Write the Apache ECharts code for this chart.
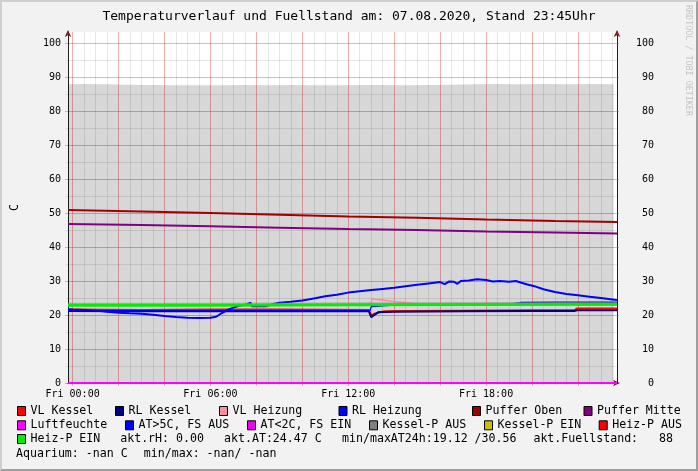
<!DOCTYPE html>
<html><head><meta charset="utf-8">
<script src="https://cdn.jsdelivr.net/npm/echarts@6/dist/echarts.min.js"></script>
<style>
html,body{margin:0;padding:0;background:#f2f2f2;}
#c{position:absolute;left:0;top:0;width:698px;height:471px;}
#frame{position:absolute;left:0;top:0;width:698px;height:471px;box-sizing:border-box;border-left:2px solid #cfcfcf;border-top:2px solid #cfcfcf;border-right:2px solid #9e9e9e;border-bottom:2px solid #9e9e9e;pointer-events:none;}
</style></head><body>
<div id="c"></div><div id="frame"></div>
<script>
// ---------------- DATA (hours relative to Fri 00:00, values in C) ----------------
const xLabelHours = [0, 6, 12, 18];
const yLabelValues = [0, 10, 20, 30, 40, 50, 60, 70, 80, 90, 100];

const fuelT = [-0.2, 0.5, 1.5, 2.5, 3.5, 4.5, 5.5, 6.5, 7.5, 8.5, 9.5, 10.5, 11.5, 12.5, 13.5, 14.5, 15.5, 16.5, 17.5, 18.5, 19.5, 20.5, 21.5, 22.5, 23.55];
const fuelV = [87.9, 88.0, 87.9, 87.8, 87.7, 87.6, 87.6, 87.6, 87.7, 87.6, 87.7, 87.6, 87.6, 87.7, 87.7, 87.6, 87.7, 87.8, 87.9, 88.0, 87.9, 88.0, 87.9, 88.0, 87.9];

const vlKesselT = [-0.2, 3, 6, 9, 12.9, 13.0, 13.15, 13.35, 13.6, 14.5, 17, 20, 21.85, 21.95, 23.7];
const vlKesselV = [21.6, 21.5, 21.6, 21.6, 21.5, 19.9, 20.4, 20.8, 21.1, 21.2, 21.3, 21.4, 21.4, 21.9, 21.9];

const rlKesselT = [-0.2, 3, 6, 9, 12.9, 13.0, 13.3, 14, 17, 20, 21.85, 21.95, 23.7];
const rlKesselV = [21.2, 21.1, 21.1, 21.1, 21.1, 19.4, 20.8, 21.0, 21.1, 21.2, 21.2, 21.4, 21.4];

const vlHeizT = [-0.2, 6, 12.95, 13.05, 13.5, 14.0, 14.5, 14.8, 15.2, 18, 23.7];
const vlHeizV = [23.0, 23.0, 23.0, 24.7, 24.4, 24.0, 23.7, 23.4, 23.1, 23.1, 23.1];

const rlHeizT = [-0.2, 6, 12.95, 13.0, 13.5, 14, 16, 19, 19.5, 21, 23.7];
const rlHeizV = [21.3, 21.3, 21.3, 22.5, 22.7, 22.9, 23.0, 23.2, 23.7, 23.8, 23.8];

const pufferT = [-0.2, 3, 6, 9, 12, 15, 18, 21, 23.7];
const pufferObenV = [50.9, 50.5, 50.0, 49.5, 49.0, 48.6, 48.1, 47.7, 47.4];
const pufferMitteV = [46.8, 46.5, 46.1, 45.7, 45.3, 45.0, 44.6, 44.3, 44.0];

const flatT = [-0.2, 6, 12, 18, 23.7];
const luftV = [0, 0, 0, 0, 0];
const kesselPAusV = [23.45, 23.45, 23.55, 23.65, 23.75];
const kesselPEinV = [23.0, 23.0, 23.1, 23.1, 23.2];
const heizPEinV = [22.9, 22.9, 23.0, 23.1, 23.2];

const atT = [-0.2, 0, 0.5, 1, 1.5, 2, 2.5, 3, 3.5, 4, 4.5, 5, 5.5, 6, 6.25, 6.5, 6.75, 7, 7.25, 7.5, 7.75, 7.8, 8.4, 8.6, 9, 9.5, 10, 10.5, 11, 11.5, 12, 12.5, 13, 13.5, 14, 14.5, 15, 15.5, 16, 16.2, 16.4, 16.6, 16.75, 16.9, 17.25, 17.6, 18, 18.3, 18.6, 19, 19.3, 19.5, 19.8, 20.1, 20.5, 21, 21.5, 22, 22.5, 23, 23.5, 23.7];
const atV = [21.7, 21.6, 21.5, 21.3, 21.0, 20.7, 20.5, 20.4, 20.1, 19.7, 19.4, 19.2, 19.1, 19.2, 19.5, 20.6, 21.5, 22.2, 22.7, 23.0, 23.6, 22.6, 22.6, 23.0, 23.6, 23.9, 24.3, 24.9, 25.5, 26.0, 26.6, 27.0, 27.4, 27.7, 28.0, 28.5, 28.9, 29.3, 29.7, 29.1, 29.9, 29.8, 29.2, 30.0, 30.2, 30.5, 30.3, 29.9, 30.0, 29.8, 30.0, 29.6, 29.0, 28.5, 27.6, 26.8, 26.2, 25.8, 25.4, 25.0, 24.6, 24.4];

const emptyV = [];

// ---------------- STYLE ----------------
const FONT = '"DejaVu Sans Mono", monospace';
const GREY = 'rgba(143,143,143,0.22)';
const RED = 'rgba(230,60,60,0.42)';
const ARROW = '#7f1f1f';
const AXIS = '#1f1f1f';
const X0 = -0.2, X1 = 23.7, YMAX = 103.3;

const halfHours = []; for (let h = 0; h <= 23.5; h += 0.5) if (h % 2 !== 0) halfHours.push(h);
const twoHours = []; for (let h = 0; h <= 22; h += 2) twoHours.push(h);
const y5 = []; for (let v = 5; v <= 100; v += 10) y5.push(v);

const pairs = (t, v) => t.map((x, i) => [x, v[i]]);
const pad = n => (n < 10 ? '0' : '') + n;

function line(name, color, t, v, width, extra) {
  return Object.assign({
    name, type: 'line', xAxisIndex: 3, yAxisIndex: 5, data: pairs(t, v),
    showSymbol: false, symbol: 'none', animation: false, color: color,
    lineStyle: { color: color, width: width }, z: 2, silent: true
  }, extra || {});
}

const series = [
  { name: 'Fuellstand', type: 'line', xAxisIndex: 3, yAxisIndex: 5, data: pairs(fuelT, fuelV), showSymbol: false, symbol: 'none',
    animation: false, lineStyle: { width: 0 }, areaStyle: { color: 'rgba(0,0,0,0.155)', opacity: 1 }, z: 2, silent: true },
  line('VL Kessel', '#ff0000', vlKesselT, vlKesselV, 2),
  line('RL Kessel', '#000080', rlKesselT, rlKesselV, 2),
  line('VL Heizung', '#ff8fa0', vlHeizT, vlHeizV, 1.6),
  line('RL Heizung', '#0000ff', rlHeizT, rlHeizV, 1.2),
  line('Puffer Oben', '#a00000', pufferT, pufferObenV, 2),
  line('Puffer Mitte', '#800080', pufferT, pufferMitteV, 2),
  line('Luftfeuchte', '#ff00ff', flatT, luftV, 2),
  line('AT>5C, FS AUS', '#0000ff', atT, atV, 2),
  line('AT<2C, FS EIN', '#ee00ee', flatT, emptyV, 2),
  line('Kessel-P AUS', '#808080', flatT, kesselPAusV, 1, { lineStyle: { color: 'rgba(128,128,128,0.55)', width: 1 } }),
  line('Kessel-P EIN', '#c8c000', flatT, kesselPEinV, 2),
  line('Heiz-P AUS', '#ff0000', flatT, emptyV, 2),
  line('Heiz-P EIN', '#00ee00', flatT, heizPEinV, 3)
];

const legendLayout = [
  ['VL Kessel', 17, 404], ['RL Kessel', 115, 404], ['VL Heizung', 219, 404], ['RL Heizung', 338.5, 404], ['Puffer Oben', 472, 404], ['Puffer Mitte', 583.5, 404],
  ['Luftfeuchte', 17, 418.3], ['AT>5C, FS AUS', 125, 418.3], ['AT<2C, FS EIN', 247, 418.3], ['Kessel-P AUS', 369, 418.3], ['Kessel-P EIN', 484, 418.3], ['Heiz-P AUS', 598.7, 418.3],
  ['Heiz-P EIN', 17, 432]
];
const legends = legendLayout.map(([n, l, t]) => ({
  data: [n], left: l, top: t, padding: 0, itemWidth: 8, itemHeight: 9, icon: 'rect', selectedMode: false,
  itemStyle: { borderColor: '#000', borderWidth: 1 },
  textStyle: { fontFamily: FONT, fontSize: 11.6, color: '#000', lineHeight: 14 }
}));

const textRows = [
  ['akt.rH: 0.00', 120.2, 439], ['akt.AT:24.47 C', 224, 439], ['min/maxAT24h:19.12 /30.56', 342, 439], ['akt.Fuellstand:   88', 533.4, 439],
  ['Aquarium: -nan C', 16, 453.7], ['min/max: -nan/ -nan', 143.8, 453.7]
];
const graphics = textRows.map(([s, x, y]) => ({ type: 'text', x, y, silent: true,
  style: { text: s, font: '11.6px ' + FONT, fill: '#000', align: 'left', verticalAlign: 'middle' } }));
graphics.push({ type: 'text', x: 349, y: 17, silent: true,
  style: { text: 'Temperaturverlauf und Fuellstand am: 07.08.2020, Stand 23:45Uhr', font: '13px ' + FONT, fill: '#000', align: 'center', verticalAlign: 'middle' } });
graphics.push({ type: 'text', x: 688, y: 5, rotation: -Math.PI / 2, silent: true,
  style: { text: 'RRDTOOL / TOBI OETIKER', font: '8.4px ' + FONT, fill: '#c4c4c4', align: 'left', verticalAlign: 'middle' } });

const noLine = { show: false, onZero: false };
const baseX = { type: 'value', min: X0, max: X1, position: 'bottom', axisLabel: { show: false }, axisLine: noLine, splitLine: { show: false }, axisTick: { show: false } };
const baseY = { type: 'value', min: 0, max: YMAX, axisLabel: { show: false }, axisLine: noLine, splitLine: { show: false }, axisTick: { show: false } };

const option = {
  animation: false,
  backgroundColor: '#f2f2f2',
  grid: { left: 68, right: 81, top: 32, bottom: 88, containLabel: false, outerBoundsMode: 'none', backgroundColor: '#ffffff', show: true, borderWidth: 0 },
  xAxis: [
    Object.assign({}, baseX, { z: 0, axisTick: { show: true, customValues: halfHours, length: 2, lineStyle: { color: GREY } }, splitLine: { show: true, lineStyle: { color: GREY, width: 1 } } }),
    Object.assign({}, baseX, { z: 1, axisTick: { show: true, customValues: twoHours, length: 3, lineStyle: { color: RED } }, splitLine: { show: true, lineStyle: { color: RED, width: 1 } } }),
    Object.assign({}, baseX, { z: 1, axisLine: { show: true, onZero: false, lineStyle: { color: ARROW, width: 1 }, symbol: ['none', 'arrow'], symbolSize: [5, 7], symbolOffset: [0, 3] } }),
    Object.assign({}, baseX, { z: 1, axisLine: { show: true, onZero: false, lineStyle: { color: AXIS, width: 1 } },
      axisTick: { show: false, customValues: xLabelHours },
      axisLabel: { show: true, customValues: xLabelHours, margin: 6, fontFamily: FONT, fontSize: 10, color: '#000', formatter: v => 'Fri ' + pad(v) + ':00' } })
  ],
  yAxis: [
    Object.assign({}, baseY, { position: 'left', z: 0, axisTick: { show: true, customValues: y5, length: 2, lineStyle: { color: GREY } }, splitLine: { show: true, lineStyle: { color: GREY, width: 1 } } }),
    Object.assign({}, baseY, { position: 'left', z: 1, axisTick: { show: true, customValues: yLabelValues, length: 3, lineStyle: { color: RED } }, splitLine: { show: true, lineStyle: { color: RED, width: 1 } } }),
    Object.assign({}, baseY, { position: 'left', z: 1, axisLine: { show: true, onZero: false, lineStyle: { color: ARROW, width: 1 }, symbol: ['none', 'arrow'], symbolSize: [5, 7], symbolOffset: [0, 2] } }),
    Object.assign({}, baseY, { position: 'right', z: 1, axisLine: { show: true, onZero: false, lineStyle: { color: ARROW, width: 1 }, symbol: ['none', 'arrow'], symbolSize: [5, 7], symbolOffset: [0, 2] } }),
    Object.assign({}, baseY, { position: 'right', z: 1, axisLine: { show: true, onZero: false, lineStyle: { color: AXIS, width: 1 } },
      axisTick: { show: true, customValues: yLabelValues, length: 2, lineStyle: { color: RED } },
      axisLabel: { show: true, customValues: yLabelValues, margin: 37, align: 'right', fontFamily: FONT, fontSize: 10, color: '#000' } }),
    Object.assign({}, baseY, { position: 'left', z: 1, axisLine: { show: true, onZero: false, lineStyle: { color: AXIS, width: 1 } },
      axisTick: { show: false, customValues: yLabelValues },
      axisLabel: { show: true, customValues: yLabelValues, margin: 7, fontFamily: FONT, fontSize: 10, color: '#000' },
      name: 'C', nameLocation: 'middle', nameGap: 47, nameTextStyle: { fontFamily: FONT, fontSize: 11.6, color: '#000' } })
  ],
  legend: legends,
  graphic: graphics,
  series: series
};

const chart = echarts.init(document.getElementById('c'), null, { renderer: 'canvas' });
chart.setOption(option);
</script></body></html>
